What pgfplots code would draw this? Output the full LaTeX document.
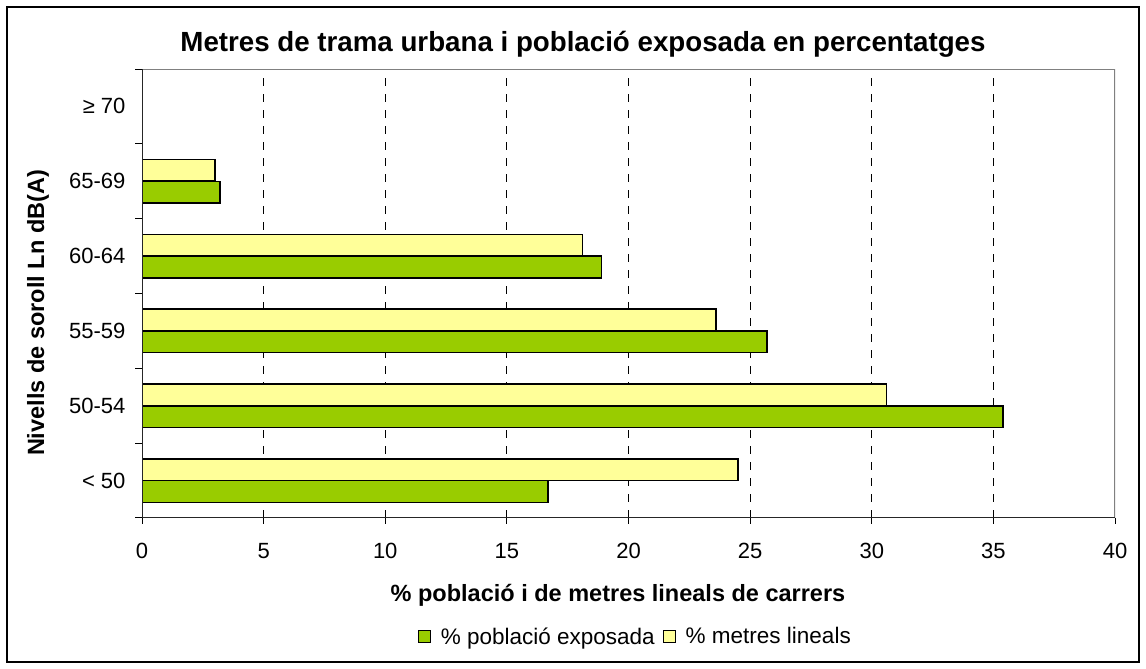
\documentclass[border=0pt]{standalone}
\usepackage{fontspec}
\setmainfont{Liberation Sans}
\usepackage{pgfplots}
\pgfplotsset{compat=1.18}
\definecolor{barGreen}{HTML}{99CC00}
\definecolor{barYellow}{HTML}{FFFF99}
\begin{document}
\begin{tikzpicture}[x=1pt,y=1pt]
\path[use as bounding box] (0,0) rectangle (1146,669);
\draw[line width=1.2pt] (7,7) rectangle (1139,662);
\begin{axis}[
  at={(142pt,151pt)}, anchor=south west,
  width=973pt, height=449pt, scale only axis,
  xmin=0, xmax=40, ymin=-0.5, ymax=5.5,
  xtick={0,5,...,40},
  ytick={0,...,5},
  yticklabels={< 50, 50-54, 55-59, 60-64, 65-69, ≥ 70},
  minor ytick={-0.5,0.5,...,5.5},
  extra x ticks={5,10,...,35},
  extra x tick labels={},
  extra x tick style={grid=major, major tick length=0pt},
  grid style={black, line width=1pt, dash pattern=on 8pt off 8pt},
  tick align=outside,
  xtick pos=bottom, ytick pos=left,
  major tick length=6pt, minor tick length=7pt,
  major x tick style={black, line width=1pt},
  major y tick style={draw=none},
  minor y tick style={black, line width=1pt},
  axis line style={draw=none},
  /pgf/number format/assume math mode=true,
  ticklabel style={font=\fontsize{22}{26}\selectfont},
  xticklabel style={yshift=-16pt},
  yticklabel style={xshift=-7pt},
  xbar, bar width=0.29,
  legend style={at={(0.507,-0.264)}, anchor=center, draw=none,
    legend columns=2, font=\fontsize{22.5}{26}\selectfont,
    /tikz/every odd column/.append style={column sep=8pt},
    /tikz/every even column/.append style={column sep=6pt}},
  legend image code/.code={\draw[#1, line width=1pt] (0pt,-6pt) rectangle (12pt,6pt);},
]
\addplot[fill=barGreen, draw=black, line width=1.5pt, bar shift=-0.146]
  coordinates {(16.7,0) (35.4,1) (25.7,2) (18.9,3) (3.2,4)};
\addlegendentry{\% població exposada}
\addplot[fill=barYellow, draw=black, line width=1.5pt, bar shift=0.146]
  coordinates {(24.5,0) (30.6,1) (23.6,2) (18.1,3) (3.0,4)};
\addlegendentry{\% metres lineals}
\draw[gray, line width=1.5pt] (rel axis cs:0,1) -- (rel axis cs:1,1) -- (rel axis cs:1,0);
\draw[black!85, line width=1.2pt] (rel axis cs:0,1) -- (rel axis cs:0,0) -- (rel axis cs:1,0);
\end{axis}
\node[font=\bfseries\fontsize{27.7}{32}\selectfont, anchor=base] at (583,617)
  {Metres de trama urbana i població exposada en percentatges};
\node[font=\bfseries\fontsize{23.5}{28}\selectfont, anchor=base] at (618,67)
  {\% població i de metres lineals de carrers};
\node[rotate=90, font=\bfseries\fontsize{23.5}{28}\selectfont] at (38,356)
  {Nivells de soroll Ln dB(A)};
\end{tikzpicture}
\end{document}
